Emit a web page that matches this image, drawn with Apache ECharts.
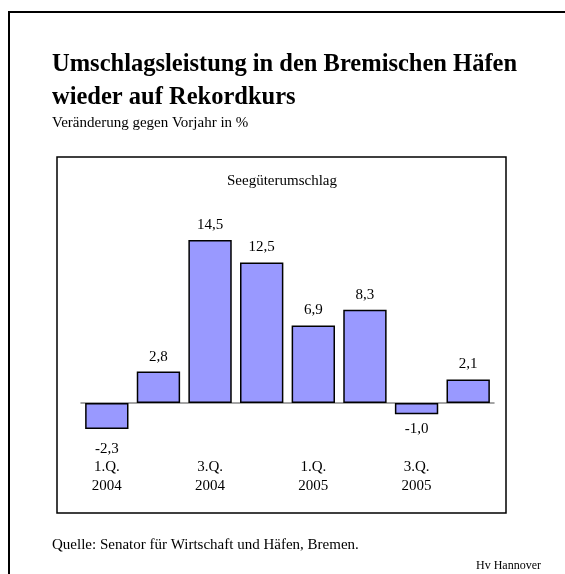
<!DOCTYPE html>
<html>
<head>
<meta charset="utf-8">
<script src="https://cdn.jsdelivr.net/npm/echarts@6/dist/echarts.min.js"></script>
<style>
  html, body { margin: 0; padding: 0; background: #fff; }
  #main { width: 565px; height: 574px; }
</style>
</head>
<body>
<div id="main"></div>
<script>
// quarters (only every other one is labelled in the original)
var quarters = ['1.Q.\n2004', '2.Q.\n2004', '3.Q.\n2004', '4.Q.\n2004',
                '1.Q.\n2005', '2.Q.\n2005', '3.Q.\n2005', '4.Q.\n2005'];
var values = [-2.3, 2.8, 14.5, 12.5, 6.9, 8.3, -1.0, 2.1];

var serif = '"Liberation Serif", "Times New Roman", serif';

function fmt(v) {
    return v.toFixed(1).replace('.', ',');
}

var myChart = echarts.init(document.getElementById('main'));

var option = {
    animation: false,
    backgroundColor: '#fff',
    title: [{
        text: 'Umschlagsleistung in den Bremischen Häfen\nwieder auf Rekordkurs',
        left: 52, top: 48.5, padding: 0,
        textStyle: { fontFamily: serif, fontSize: 24.5, fontWeight: 'bold', color: '#000', lineHeight: 33 }
    }, {
        text: 'Veränderung gegen Vorjahr in %',
        left: 52, top: 115.5, padding: 0,
        textStyle: { fontFamily: serif, fontSize: 15, fontWeight: 'normal', color: '#000', lineHeight: 15 }
    }, {
        text: 'Seegüterumschlag',
        left: 282, top: 173.5, padding: 0, textAlign: 'center',
        textStyle: { fontFamily: serif, fontSize: 15, fontWeight: 'normal', color: '#000', lineHeight: 15 }
    }, {
        text: 'Quelle: Senator für Wirtschaft und Häfen, Bremen.',
        left: 52, top: 538, padding: 0,
        textStyle: { fontFamily: serif, fontSize: 15, fontWeight: 'normal', color: '#000', lineHeight: 15 }
    }, {
        text: 'Hv Hannover',
        right: 24, top: 560, padding: 0,
        textStyle: { fontFamily: serif, fontSize: 12, fontWeight: 'normal', color: '#000', lineHeight: 12 }
    }],
    graphic: [{
        type: 'rect',
        shape: { x: 9, y: 12, width: 620, height: 620 },
        style: { fill: 'none', stroke: '#000', lineWidth: 2 },
        silent: true
    }, {
        type: 'rect',
        shape: { x: 57, y: 157, width: 449, height: 356 },
        style: { fill: 'none', stroke: '#000', lineWidth: 1.5 },
        silent: true
    }],
    grid: { left: 81, right: 71, top: 223.2, bottom: 574 - 448 },
    xAxis: {
        type: 'category',
        data: quarters,
        axisLine: { onZero: true, lineStyle: { color: '#888', width: 1.5 } },
        axisTick: { show: false },
        axisLabel: {
            interval: 1, margin: 10,
            fontFamily: serif, fontSize: 15, color: '#000', lineHeight: 19
        }
    },
    yAxis: {
        type: 'value', min: -4, max: 16,
        show: false, splitLine: { show: false }
    },
    series: [{
        type: 'bar',
        barCategoryGap: '16%',
        data: values.map(function (v, i) {
            var d = { value: v };
            if (v < 0) {
                d.label = { position: 'bottom', distance: i === 0 ? 13 : 7.5 };
            }
            return d;
        }),
        itemStyle: { color: '#9999ff', borderColor: '#000', borderWidth: 1.5 },
        label: {
            show: true, position: 'top', distance: 7.5,
            fontFamily: serif, fontSize: 15, color: '#000',
            formatter: function (p) { return fmt(p.value); }
        }
    }]
};

myChart.setOption(option);
</script>
</body>
</html>
